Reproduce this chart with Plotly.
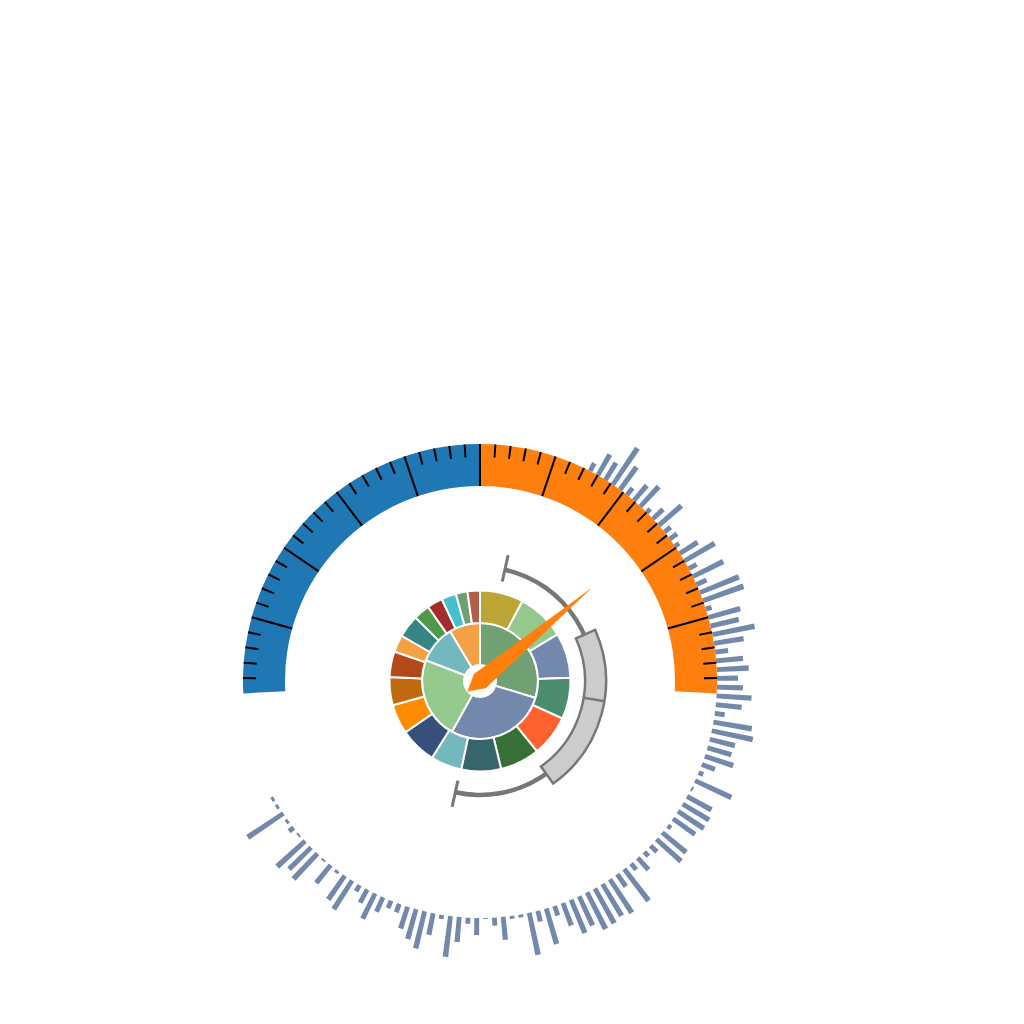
import plotly.graph_objects as go
import numpy as np

# ---------------- data ----------------
# gauge
gauge_min, gauge_max = 0, 100
gauge_value = 77
gauge_split_value = 50          # blue up to here, orange after
gauge_split_number = 10
gauge_minor_per_split = 5

# nested pies
inner_names = ["A", "B", "C", "D", "E"]
inner_values = [107, 102, 82, 38, 31]
inner_colors = ["#6fa173", "#7289ab", "#93c98d", "#73b8bd", "#f4a044"]

outer_names = ["a%d" % i for i in range(1, 20)]
outer_values = [28, 31, 29, 26.5, 26.5, 25.5, 25.5, 20, 23.5, 19, 18, 16.5,
                11, 14.5, 10.5, 10, 9.5, 7.5, 8]
outer_colors = ["#bda535", "#93c98d", "#7289ab", "#4a8c6d", "#ff6231", "#386f36",
                "#38656b", "#73b8bd", "#37507b", "#ff8c00", "#c0690e", "#b5481b",
                "#f4a044", "#378585", "#4e9a4a", "#a52b2c", "#47bfd3", "#6fa070",
                "#b05f4b"]

# polar boxplot: [low, q1, median, q3, high] on the angular value axis (degrees)
box_stats = [-102.5, -54.5, -9.2, 23.9, 77.4]

# outer radial bars (one per category)
bar_values = [9, 24, 20, 44, 28, 9, 20, 27, 5, 14,
              30, 8, 9, 5, 21, 35, 9, 34, 11, 42,
              43, 6, 33, 29, 43, 30, 13, 27, 32, 21,
              26, 35, 26, 10, 39, 42, 26, 25, 30, 14,
              5, 40, 2, 28, 31, 31, 27, 4, 31, 33,
              9, 6, 16, 8, 40, 15, 40, 37, 40, 41,
              32, 36, 24, 10, 37, 11, 43, 3, 3, 23,
              8, 1, 17, 6, 25, 41, 4, 22, 38, 31,
              23, 9, 8, 16, 28, 15, 7, 34, 29, 3,
              23, 2, 35, 31, 38, 2, 6, 3, 43, 3, 3]

# ---------------- geometry / style ----------------
G_START, G_END = 183.0, -3.0
G_R0, G_R1 = 195, 237
MINOR_R0 = 224
PIE_IN = (16, 58)
PIE_OUT = (58, 90.5)
BOX_R = (105, 126)
WHISKER_R = (114, 4.5)
CAP_R = (102, 129)
BAR_BASE = 237
BAR_START, BAR_STEP, BAR_WIDTH = 62.3, 2.126, 1.15
NEEDLE_LEN, NEEDLE_W, NEEDLE_BACK = 143, 9, 16
BLUE, ORANGE = "#1f77b4", "#ff7f0e"
BOXLINE, BOXFILL = "#777777", "#cccccc"


def g_angle(v):
    return G_START + (v - gauge_min) / (gauge_max - gauge_min) * (G_END - G_START)


fig = go.Figure()

# radial bars
idx = np.arange(len(bar_values))
fig.add_trace(go.Barpolar(
    theta=BAR_START - idx * BAR_STEP, r=bar_values, base=BAR_BASE,
    width=BAR_WIDTH, marker=dict(color="#7289ab", line=dict(width=0)),
    hoverinfo="skip"))

# gauge band
a0, am, a1 = g_angle(gauge_min), g_angle(gauge_split_value), g_angle(gauge_max)
fig.add_trace(go.Barpolar(
    theta=[(a0 + am) / 2, (am + a1) / 2], width=[abs(am - a0), abs(a1 - am)],
    r=[G_R1 - G_R0] * 2, base=G_R0,
    marker=dict(color=[BLUE, ORANGE], line=dict(width=0)), hoverinfo="skip"))

# ticks
major_r, major_t, minor_r, minor_t = [], [], [], []
n_minor = gauge_split_number * gauge_minor_per_split
for j in range(1, n_minor):
    v = gauge_min + (gauge_max - gauge_min) * j / n_minor
    a = g_angle(v)
    if j % gauge_minor_per_split == 0:
        major_r += [G_R0, G_R1, None]
        major_t += [a, a, None]
    else:
        minor_r += [MINOR_R0, G_R1, None]
        minor_t += [a, a, None]
fig.add_trace(go.Scatterpolar(r=major_r, theta=major_t, mode="lines",
                              line=dict(color="black", width=2), hoverinfo="skip"))
fig.add_trace(go.Scatterpolar(r=minor_r, theta=minor_t, mode="lines",
                              line=dict(color="black", width=2), hoverinfo="skip"))


def pie_trace(values, colors, radii):
    vals = np.array(values, dtype=float)
    frac = vals / vals.sum() * 360.0
    start = 90 - np.concatenate([[0], np.cumsum(frac)[:-1]])
    centers = start - frac / 2
    return go.Barpolar(theta=centers, width=frac, r=[radii[1] - radii[0]] * len(vals),
                       base=radii[0],
                       marker=dict(color=colors, line=dict(color="white", width=2)),
                       hoverinfo="skip")


fig.add_trace(pie_trace(inner_values, inner_colors, PIE_IN))
fig.add_trace(pie_trace(outer_values, outer_colors, PIE_OUT))

# boxplot
lo, q1, med, q3, hi = box_stats
fig.add_trace(go.Barpolar(theta=[(lo + hi) / 2], width=[hi - lo], r=[WHISKER_R[1]],
                          base=WHISKER_R[0] - WHISKER_R[1] / 2,
                          marker=dict(color=BOXLINE, line=dict(width=0)), hoverinfo="skip"))
fig.add_trace(go.Scatterpolar(r=[CAP_R[0], CAP_R[1], None, CAP_R[0], CAP_R[1]],
                              theta=[lo, lo, None, hi, hi], mode="lines",
                              line=dict(color=BOXLINE, width=3), hoverinfo="skip"))
fig.add_trace(go.Barpolar(theta=[(q1 + q3) / 2], width=[q3 - q1], r=[BOX_R[1] - BOX_R[0]],
                          base=BOX_R[0],
                          marker=dict(color=BOXFILL, line=dict(color=BOXLINE, width=2.5)),
                          hoverinfo="skip"))
fig.add_trace(go.Scatterpolar(r=[BOX_R[0], BOX_R[1]], theta=[med, med], mode="lines",
                              line=dict(color=BOXLINE, width=2.5), hoverinfo="skip"))

# needle
na = g_angle(gauge_value)
fig.add_trace(go.Scatterpolar(
    r=[NEEDLE_BACK, NEEDLE_W, NEEDLE_LEN, NEEDLE_W, NEEDLE_BACK],
    theta=[na + 180, na + 90, na, na - 90, na + 180],
    mode="lines", fill="toself", fillcolor=ORANGE,
    line=dict(color=ORANGE, width=0.5), hoverinfo="skip"))

W = H = 1024
CX, CY, RMAX = 480, 681, 300
fig.update_layout(
    width=W, height=H, margin=dict(l=0, r=0, t=0, b=0),
    paper_bgcolor="white", plot_bgcolor="white", showlegend=False,
    polar=dict(
        domain=dict(x=[(CX - RMAX) / W, (CX + RMAX) / W],
                    y=[(H - CY - RMAX) / H, (H - CY + RMAX) / H]),
        bgcolor="rgba(0,0,0,0)", barmode="overlay",
        radialaxis=dict(range=[0, RMAX], visible=False, showgrid=False),
        angularaxis=dict(visible=False, showgrid=False, rotation=0,
                         direction="counterclockwise"),
    ),
)
fig.write_html("out.html")
